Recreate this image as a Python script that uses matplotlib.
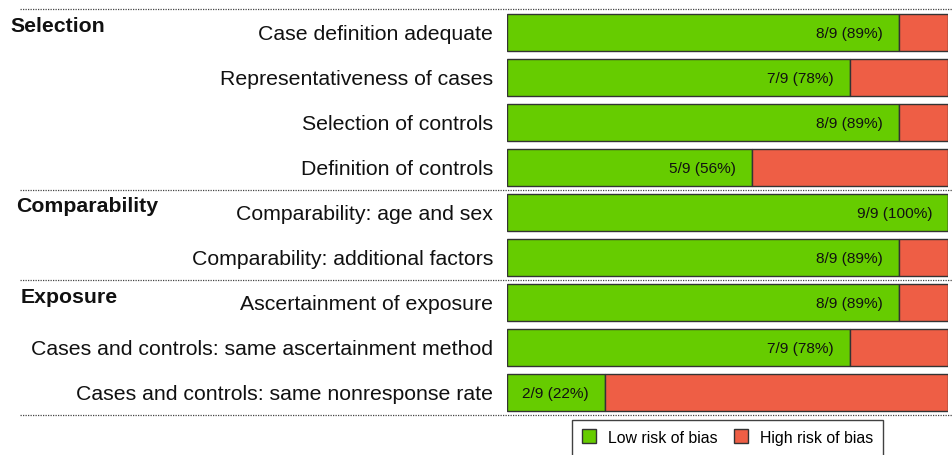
import numpy as np
import matplotlib.pyplot as plt
import matplotlib.transforms as mtransforms
from matplotlib.lines import Line2D

plt.rcParams['font.family'] = ['Liberation Sans', 'DejaVu Sans']

# Data
domains = [
    "Case definition adequate",
    "Representativeness of cases",
    "Selection of controls",
    "Definition of controls",
    "Comparability: age and sex",
    "Comparability: additional factors",
    "Ascertainment of exposure",
    "Cases and controls: same ascertainment method",
    "Cases and controls: same nonresponse rate",
]
low_risk = [8, 7, 8, 5, 9, 8, 8, 7, 2]
n_studies = 9
groups = ["Selection", "Comparability", "Exposure"]
group_start = [0, 4, 6]

green = '#66cc00'
red = '#ee5e45'
edge = '#333333'

fig = plt.figure(figsize=(9.53, 4.55), dpi=100)
ax = fig.add_axes([507 / 953, 1 - 415.5 / 455, 441 / 953, 406 / 455])

rows = np.arange(len(domains))
low = np.array(low_risk)
high = n_studies - low
ax.barh(rows, low, height=0.82, color=green, edgecolor=edge, linewidth=1)
ax.barh(rows, high, left=low, height=0.82, color=red, edgecolor=edge, linewidth=1)

for r, n in zip(rows, low):
    ax.annotate(f"{n}/{n_studies} ({round(100 * n / n_studies)}%)", xy=(n, r),
                xytext=(-11.5, 0), textcoords='offset points',
                ha='right', va='center_baseline', fontsize=11.1, color='#111111')

ax.set_xlim(0, n_studies)
ax.set_ylim(len(domains) - 0.5, -0.5)
ax.set_yticks(rows)
ax.set_yticklabels(domains, fontsize=15.3, color='#111111')
ax.tick_params(axis='y', length=0, pad=10)
ax.set_xticks([])
for s in ax.spines.values():
    s.set_visible(False)

# dotted separators across the whole figure
trans = mtransforms.blended_transform_factory(fig.transFigure, ax.transData)
for y in [-0.5, 3.5, 5.5, len(domains) - 0.5]:
    fig.add_artist(Line2D([20 / 953, 1.0], [y, y], transform=trans,
                          color='#444444', linestyle=(0, (1, 1)), linewidth=0.9))

# group titles
group_x = [10, 16, 21]
for g, start, gx in zip(groups, group_start, group_x):
    fig.text(gx / 953, start, g, transform=trans, ha='left', va='baseline',
             fontsize=15.3, fontweight='bold', color='#111111')

handles = [Line2D([], [], marker='s', linestyle='', markersize=10,
                  markerfacecolor=green, markeredgecolor=edge, label='Low risk of bias'),
           Line2D([], [], marker='s', linestyle='', markersize=10,
                  markerfacecolor=red, markeredgecolor=edge, label='High risk of bias')]
leg = ax.legend(handles=handles, loc='upper center', bbox_to_anchor=(0.5, -0.011),
                ncol=2, fontsize=11.4, frameon=True, fancybox=False,
                handlelength=0.9, handleheight=1.3, handletextpad=0.75,
                columnspacing=1.05, borderpad=0.6, borderaxespad=0)
leg.get_frame().set_edgecolor('#111111')
leg.get_frame().set_linewidth(1)

fig.savefig('out.png', dpi=100)
